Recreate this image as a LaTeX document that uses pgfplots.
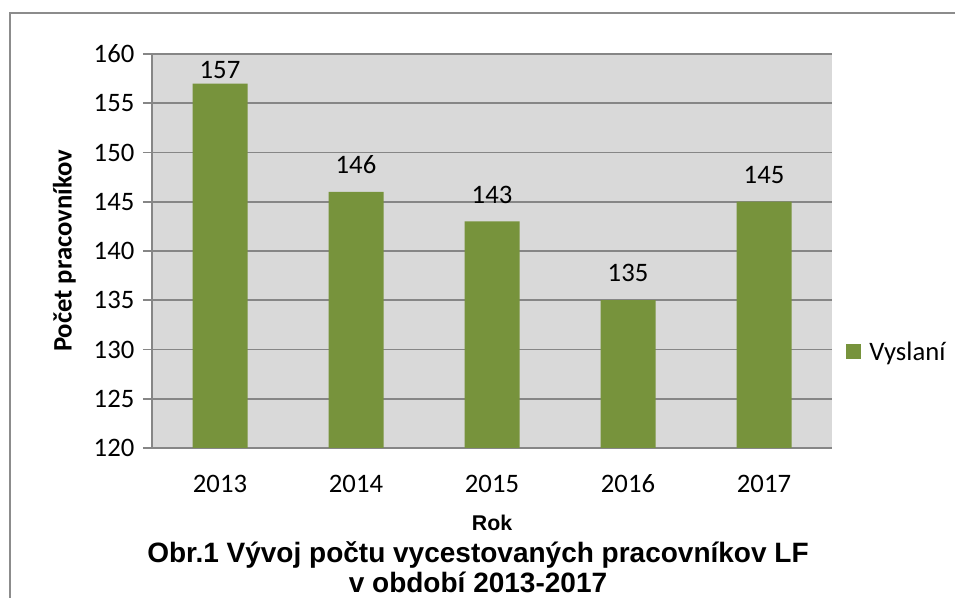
\documentclass[border=0pt]{standalone}
\usepackage{fontspec}
\setmainfont{Carlito}
\newfontfamily\arial{Liberation Sans}
\usepackage{pgfplots}
\usepackage{pgfplotstable}
\pgfplotsset{compat=1.18}
\definecolor{bargreen}{HTML}{77933C}
\definecolor{plotbg}{HTML}{D9D9D9}
\definecolor{gridc}{HTML}{868686}
\definecolor{framec}{HTML}{8C8C8C}

\pgfplotstableread{
x y dy
0 157 10.2
1 146 20.25
2 143 20.25
3 135 20.25
4 145 20.25
}\vyslani

\begin{document}
\begin{tikzpicture}[x=0.75pt,y=0.75pt]
\useasboundingbox (0,0) rectangle (955,598);
\draw[framec, line width=1.3pt] (10,-10) -- (10,585) -- (970,585);
\begin{axis}[
  at={(114pt,112.5pt)}, anchor=south west,
  scale only axis, width=510pt, height=295.5pt,
  ymin=120, ymax=160, ytick={120,125,...,160},
  xmin=-0.5, xmax=4.5, xtick={0,1,2,3,4},
  xticklabels={2013,2014,2015,2016,2017},
  ybar, bar width=41.25pt,
  axis background/.style={fill=plotbg},
  ymajorgrids, grid style={gridc, line width=1.2pt},
  axis x line*=bottom, axis y line*=left,
  axis line style={gridc, line width=1.2pt},
  tick align=outside, major tick length=6.75pt,
  ytick style={gridc, line width=1.2pt},
  xtick style={draw=none},
  /pgf/number format/assume math mode=true,
  tick label style={font=\fontsize{20}{24}\selectfont, text=black},
  yticklabel style={xshift=-3pt},
  xticklabel style={yshift=-10pt, text height=13pt, text depth=0pt},
  xlabel={\arial\bfseries Rok},
  xlabel style={at={(axis description cs:0.5,-0.19)}, anchor=center, font=\fontsize{16}{19}\selectfont},
  ylabel={\bfseries Počet pracovníkov},
  ylabel style={at={(axis description cs:-0.129,0.5)}, anchor=center, font=\fontsize{20}{24}\selectfont},
  nodes near coords,
  visualization depends on={\thisrow{dy} \as \dy},
  every node near coord/.append style={anchor=center, yshift=\dy pt, font=\fontsize{20}{24}\selectfont, text=black},
  legend style={at={(1.015,0.244)}, anchor=west, draw=none, fill=none, font=\fontsize{20}{24}\selectfont},
  legend image code/.code={\fill[bargreen] (0pt,-5.6pt) rectangle (11.25pt,5.6pt);},
]
\addplot[fill=bargreen, draw=none] table[x=x,y=y]{\vyslani};
\addlegendentry{\hspace{4pt}Vyslaní}
\end{axis}
\node[font=\arial\bfseries\fontsize{21}{25}\selectfont] at (478,43) {Obr.1 Vývoj počtu vycestovaných pracovníkov LF};
\node[font=\arial\bfseries\fontsize{21}{25}\selectfont] at (478,16) {v období 2013-2017};
\end{tikzpicture}
\end{document}
